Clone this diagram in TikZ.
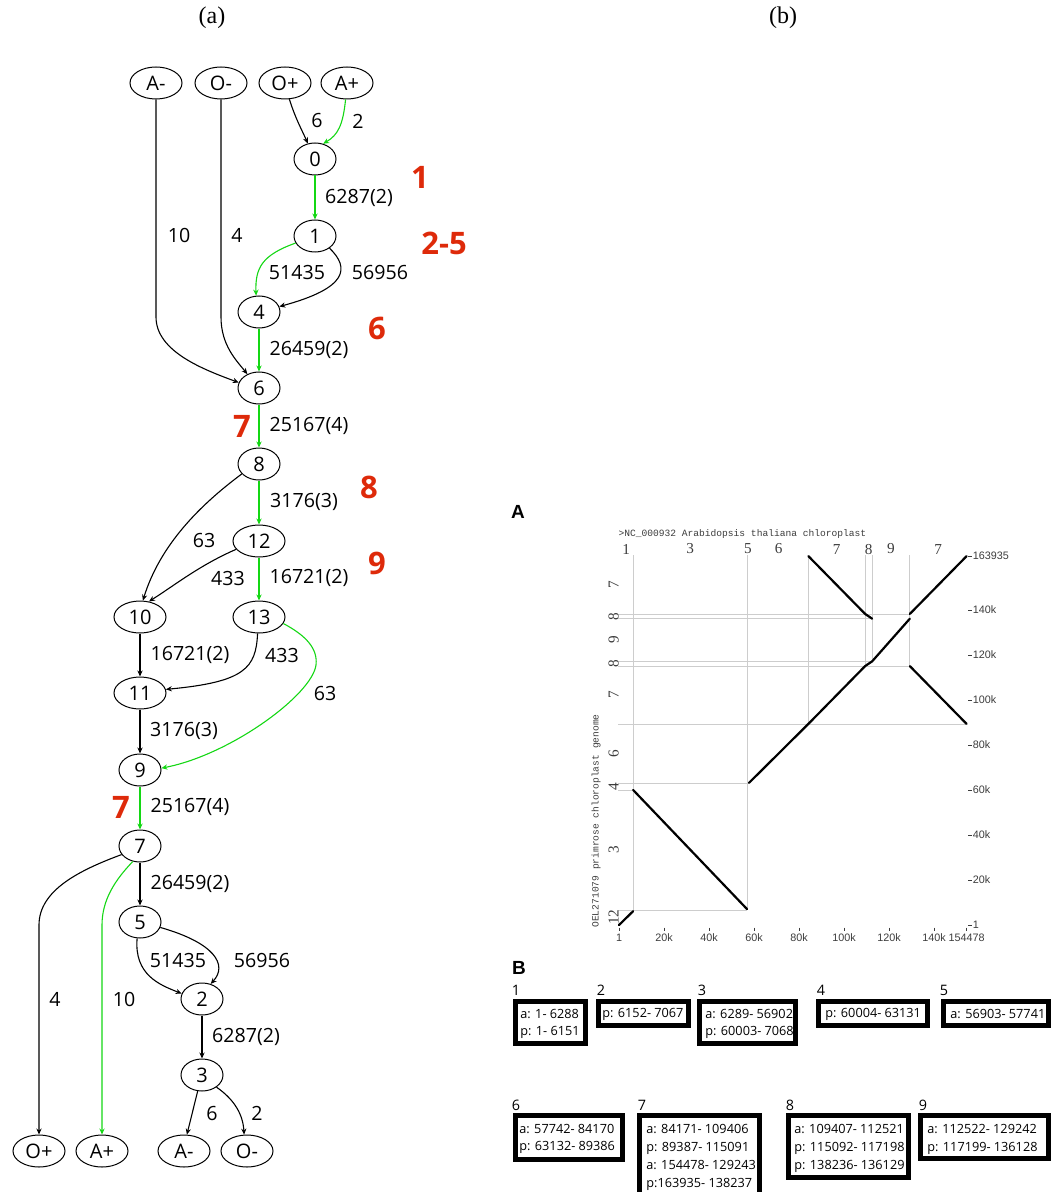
\documentclass[tikz,border=0pt]{standalone}
\usepackage{fontspec}
\setmainfont{Liberation Serif}
\newfontfamily\gfont{Open Sans}
\newfontfamily\hfont{Liberation Sans}
\newfontfamily\mfont{Liberation Mono}
\usetikzlibrary{arrows.meta,shapes.geometric}
\definecolor{grn}{RGB}{20,215,20}
\definecolor{redl}{RGB}{222,42,10}
\definecolor{gridc}{RGB}{205,205,205}
\definecolor{plottxt}{RGB}{60,60,60}
\begin{document}
\begin{tikzpicture}[x=0.5pt,y=-0.5pt,
  gnode/.style={draw,ellipse,line width=0.5pt,minimum width=21pt,minimum height=16pt,inner sep=0pt,font=\gfont\fontsize{10}{10}\selectfont},
  wnode/.style={gnode,minimum width=26pt},
  elab/.style={font=\gfont\fontsize{9.8}{10}\selectfont,inner sep=0pt},
  rlab/.style={font=\gfont\bfseries\fontsize{15.5}{16}\selectfont,text=redl,inner sep=0pt},
  edge/.style={line width=0.55pt,-{Stealth[length=3pt,width=2.6pt]}},
  gedge/.style={edge,draw=grn},
  grid/.style={draw=gridc,line width=0.35pt},
  diag/.style={line width=1.1pt,line cap=round},
  ptick/.style={line width=0.3pt,draw=plottxt},
  collab/.style={font=\fontsize{7.6}{8}\selectfont,text=plottxt,inner sep=0pt},
  axlab/.style={font=\hfont\fontsize{5.4}{6}\selectfont,text=plottxt,inner sep=0pt},
  bbox/.style={draw,line width=2.4pt},
  btxt/.style={anchor=west,align=left,inner sep=0pt,font=\gfont\fontsize{6.35}{8.5}\selectfont},
  btxtw/.style={btxt,font=\gfont\fontsize{6.35}{9}\selectfont},
  bnum/.style={font=\gfont\fontsize{7.2}{8}\selectfont,inner sep=0pt},
  plab/.style={font=\fontsize{12}{13}\selectfont,inner sep=0pt},
  panlab/.style={font=\hfont\bfseries\fontsize{9.5}{10}\selectfont,inner sep=0pt}
]
\useasboundingbox (0,0) rectangle (1051,1192);
\clip (0,0) rectangle (1051,1192);

% panel captions
\node[plab] (capa) at (212,18) {(a)};
\node[plab] (capb) at (783,18) {(b)};

% ---------------- graph nodes ----------------
\node[wnode] (tAm) at (156,83) {A-};
\node[wnode] (tOm) at (221,83) {O-};
\node[wnode] (tOp) at (285,83) {O+};
\node[wnode] (tAp) at (347,83) {A+};
\node[gnode] (n0) at (315,159) {0};
\node[gnode] (n1) at (315,236) {1};
\node[gnode] (n4) at (259,312) {4};
\node[gnode] (n6) at (259,388) {6};
\node[gnode] (n8) at (259,464) {8};
\node[wnode] (n12) at (259,541) {12};
\node[wnode] (n10) at (140,617) {10};
\node[wnode] (n13) at (259,617) {13};
\node[wnode] (n11) at (140,693) {11};
\node[gnode] (n9) at (140,770) {9};
\node[gnode] (n7) at (140,846) {7};
\node[gnode] (n5) at (140,922) {5};
\node[gnode] (n2) at (202,999) {2};
\node[gnode] (n3) at (202,1075) {3};
\node[wnode] (bOp) at (39,1151) {O+};
\node[wnode] (bAp) at (102,1151) {A+};
\node[wnode] (bAm) at (184,1151) {A-};
\node[wnode] (bOm) at (247,1151) {O-};

% ---------------- graph edges ----------------
\draw[edge] (tAm.south) -- (156,317) .. controls (156,352) and (205,370) .. (n6.165);
\draw[edge] (tOm.south) -- (221,317) .. controls (221,345) and (236,360) .. (n6.130);
\draw[edge] (tOp.-75) .. controls (296,120) and (302,130) .. (n0.115);
\draw[gedge] (tAp.-95) .. controls (343,125) and (338,135) .. (n0.62);
\draw[gedge] (n0) -- (n1);
\draw[gedge] (n1.200) .. controls (262,255) and (255,268) .. (n4.100);
\draw[edge] (n1.-40) .. controls (350,268) and (348,288) .. (n4.15);
\draw[gedge] (n4) -- (n6);
\draw[gedge] (n6) -- (n8);
\draw[gedge] (n8) -- (n12);
\draw[edge] (n8.210) .. controls (200,505) and (160,545) .. (n10.80);
\draw[edge] (n12.200) .. controls (200,565) and (175,585) .. (n10.60);
\draw[gedge] (n12) -- (n13);
\draw[edge] (n10) -- (n11);
\draw[edge] (n13.-95) .. controls (256,668) and (245,682) .. (n11.8);
\draw[gedge] (n13.-15) .. controls (305,635) and (318,648) .. (316,665) .. controls (312,695) and (230,755) .. (n9.5);
\draw[edge] (n11) -- (n9);
\draw[gedge] (n9) -- (n7);
\draw[edge] (n7) -- (n5);
\draw[edge] (n7.205) .. controls (80,870) and (39,890) .. (39,925) -- (bOp.north);
\draw[gedge] (n7.245) .. controls (115,880) and (102,900) .. (102,925) -- (bAp.north);
\draw[edge] (n5.-100) .. controls (134,975) and (160,985) .. (n2.165);
\draw[edge] (n5.-15) .. controls (215,943) and (228,965) .. (n2.60);
\draw[edge] (n2) -- (n3);
\draw[edge] (n3.-105) -- (bAm.80);
\draw[edge] (n3.-40) .. controls (235,1100) and (243,1115) .. (bOm.100);

% ---------------- edge labels ----------------
\node[elab] (l1) at (317,121) {6};
\node[elab] (l2) at (358,121) {2};
\node[elab] (l3) at (359,198) {6287(2)};
\node[elab] (l4) at (179,235) {10};
\node[elab] (l5) at (237,235) {4};
\node[elab] (l6) at (297,273) {51435};
\node[elab] (l7) at (380,273) {56956};
\node[elab] (l8) at (309,350) {26459(2)};
\node[elab] (l9) at (309,426) {25167(4)};
\node[elab] (l10) at (304,502) {3176(3)};
\node[elab] (l11) at (204,540) {63};
\node[elab] (l12) at (228,578) {433};
\node[elab] (l13) at (309,578) {16721(2)};
\node[elab] (l14) at (190,655) {16721(2)};
\node[elab] (l15) at (282,655) {433};
\node[elab] (l16) at (325,693) {63};
\node[elab] (l17) at (184,731) {3176(3)};
\node[elab] (l18) at (190,807) {25167(4)};
\node[elab] (l19) at (190,884) {26459(2)};
\node[elab] (l20) at (178,960) {51435};
\node[elab] (l21) at (262,960) {56956};
\node[elab] (l22) at (55,999) {4};
\node[elab] (l23) at (124,999) {10};
\node[elab] (l24) at (246,1037) {6287(2)};
\node[elab] (l25) at (212,1113) {6};
\node[elab] (l26) at (257,1113) {2};

% red step labels
\node[rlab] (r1) at (420,177) {1};
\node[rlab] (r2) at (444,243) {2-5};
\node[rlab] (r3) at (377,328) {6};
\node[rlab] (r4) at (242,426) {7};
\node[rlab] (r5) at (369,487) {8};
\node[rlab] (r6) at (377,563) {9};
\node[rlab] (r7) at (121,807) {7};

% ---------------- panel (b): dot plot ----------------
\node[panlab] (pA) at (518,512) {A};
\begin{scope}[shift={(619,925)}]
\begin{scope}[x=1.125pt,y=1.125pt]
  % grid lines
  \draw[grid] (6.288,6.6) -- (6.288,164.5);
  \draw[grid] (56.902,7.068) -- (56.902,164.5);
  \draw[grid] (84.170,89.386) -- (84.170,164.5);
  \draw[grid] (109.406,115.091) -- (109.406,164.5);
  \draw[grid] (112.521,117.198) -- (112.521,164.5);
  \draw[grid] (129.242,115.091) -- (129.242,164.5);
  \draw[grid] (-0.3,6.6) -- (56.902,6.6);
  \draw[grid] (-0.3,60.003) -- (6.288,60.003);
  \draw[grid] (-0.3,63.131) -- (56.902,63.131);
  \draw[grid] (-0.3,89.386) -- (154.478,89.386);
  \draw[grid] (-0.3,115.091) -- (129.242,115.091);
  \draw[grid] (-0.3,117.198) -- (112.521,117.198);
  \draw[grid] (-0.3,136.128) -- (112.521,136.128);
  \draw[grid] (-0.3,138.236) -- (129.242,138.236);
  % diagonals
  \draw[diag] (0,0) -- (6.288,6.151);
  \draw[diag] (6.289,60.003) -- (56.902,7.068);
  \draw[diag] (57.742,63.132) -- (84.170,89.386) -- (109.406,115.091) -- (112.521,117.198) -- (129.242,136.128);
  \draw[diag] (84.171,163.935) -- (109.406,138.237);
  \draw[diag] (109.407,138.236) -- (112.521,136.129);
  \draw[diag] (129.243,138.237) -- (154.478,163.935);
  \draw[diag] (129.243,115.091) -- (154.478,89.387);
  % header
  \node[anchor=west,inner sep=0pt,text=plottxt,font=\mfont\fontsize{4.8}{5}\selectfont] (hdr) at (-0.4,173.8) {>NC\_000932 Arabidopsis thaliana chloroplast};
  % column labels
  \node[collab] (c1) at (3.144,167.1) {1};
  \node[collab] (c3) at (31.595,167.1) {3};
  \node[collab] (c5) at (57.322,167.1) {5};
  \node[collab] (c6) at (70.956,167.1) {6};
  \node[collab] (c7) at (96.788,167.1) {7};
  \node[collab] (c8) at (110.964,167.1) {8};
  \node[collab] (c9) at (120.882,167.1) {9};
  \node[collab] (c7b) at (141.86,167.1) {7};
  % row labels (rotated)
  \node[collab,rotate=90] (w12) at (-2.4,3.5) {12};
  \node[collab,rotate=90] (w3) at (-2.4,33.5) {3};
  \node[collab,rotate=90] (w4) at (-2.4,61.6) {4};
  \node[collab,rotate=90] (w6) at (-2.4,76.3) {6};
  \node[collab,rotate=90] (w7) at (-2.4,102.2) {7};
  \node[collab,rotate=90] (w8) at (-2.4,116.1) {8};
  \node[collab,rotate=90] (w9) at (-2.4,126.7) {9};
  \node[collab,rotate=90] (w8b) at (-2.4,137.2) {8};
  \node[collab,rotate=90] (w7b) at (-2.4,151.1) {7};
  \node[anchor=west,rotate=90,inner sep=0pt,text=plottxt,font=\mfont\fontsize{4.8}{5}\selectfont] (ylab) at (-10.2,-1.3) {OEL271079 primrose chloroplast genome};
  % right axis ticks and labels
  \foreach \v/\t in {163.935/163935,140/140k,120/120k,100/100k,80/80k,60/60k,40/40k,20/20k,0/1}{
    \draw[ptick] (155.3,\v) -- (156.9,\v);
    \node[axlab,anchor=west] at (157.1,\v) {\t};
  }
  % bottom axis ticks and labels
  \foreach \v/\t in {0/1,20/20k,40/40k,60/60k,80/80k,100/100k,120/120k,140/140k,154.478/154478}{
    \draw[ptick] (\v,-1.2) -- (\v,-2.6);
    \node[axlab] at (\v,-5.8) {\t};
  }
\end{scope}
\end{scope}

% ---------------- panel (b): blocks ----------------
\node[panlab] (pB) at (519,968) {B};
\node[bnum] (k1) at (516,990) {1};
\node[bnum] (k2) at (601,990) {2};
\node[bnum] (k3) at (702,990) {3};
\node[bnum] (k4) at (821,990) {4};
\node[bnum] (k5) at (944,990) {5};
\node[bnum] (k6) at (516,1105) {6};
\node[bnum] (k7) at (642,1105) {7};
\node[bnum] (k8) at (790,1105) {8};
\node[bnum] (k9) at (923,1105) {9};

\draw[bbox] (515.5,1001.5) rectangle (585.5,1043.5);
\node[btxt] (t1) at (520,1024) {a: 1- 6288\\p: 1- 6151};
\draw[bbox] (598.5,1001.5) rectangle (688.5,1025.5);
\node[btxt] (t2) at (602,1014) {p: 6152- 7067};
\draw[bbox] (699.5,1001.5) rectangle (795.5,1043.5);
\node[btxt] (t3) at (705,1024) {a: 6289- 56902\\p: 60003- 7068};
\draw[bbox] (818.5,1001.5) rectangle (927.5,1025.5);
\node[btxt] (t4) at (825,1014) {p: 60004- 63131};
\draw[bbox] (943.5,1001.5) rectangle (1048.5,1025.5);
\node[btxt] (t5) at (950,1014) {a: 56903- 57741};

\draw[bbox] (515.5,1115.5) rectangle (622.5,1159.5);
\node[btxt] (t6) at (519,1139) {a: 57742- 84170\\p: 63132- 89386};
\draw[bbox] (639.5,1115.5) rectangle (759.5,1205);
\node[btxtw] (t7) at (646,1157) {a: 84171- 109406\\p: 89387- 115091\\a: 154478- 129243\\p:163935- 138237};
\draw[bbox] (788.5,1115.5) rectangle (908.5,1177.5);
\node[btxtw] (t8) at (794,1148) {a: 109407- 112521\\p: 115092- 117198\\p: 138236- 136129};
\draw[bbox] (920.5,1115.5) rectangle (1048.5,1158.5);
\node[btxtw] (t9) at (927,1139) {a: 112522- 129242\\p: 117199- 136128};
\end{tikzpicture}
\end{document}
